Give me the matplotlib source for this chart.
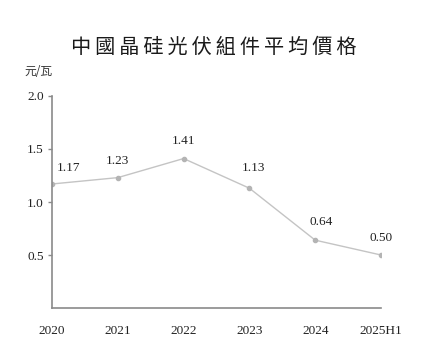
import matplotlib.pyplot as plt
import numpy as np

# 中國晶硅光伏組件平均價格 (元/瓦)
years = ["2020", "2021", "2022", "2023", "2024", "2025H1"]
prices = [1.17, 1.23, 1.41, 1.13, 0.64, 0.50]
price_labels = ["1.17", "1.23", "1.41", "1.13", "0.64", "0.50"]

x = np.arange(len(years))
serif = ['Liberation Serif', 'DejaVu Serif']
cjk = ['Noto Sans CJK TC', 'DejaVu Sans']

fig = plt.figure(figsize=(4.3, 3.51), dpi=100)
ax = fig.add_axes([0.121, 0.1225, 0.765, 0.604])

ax.plot(x, prices, color='#c4c4c4', linewidth=1.0, marker='o',
        markersize=3, markerfacecolor='#b4b4b4', markeredgecolor='#b4b4b4')

# label offsets (points) so the numbers sit like the original
offsets = [(12, 7), (0, 8), (0, 8), (3, 10), (4, 9), (0, 8)]
for xi, yi, lab, off in zip(x, prices, price_labels, offsets):
    ax.annotate(lab, (xi, yi), xytext=off, textcoords='offset points',
                ha='center', va='bottom', fontsize=9.5, color='#222222',
                family=serif)

ax.set_xlim(0, 5)
ax.set_ylim(0, 2.0)
ax.set_yticks([0.5, 1.0, 1.5, 2.0])
ax.set_yticklabels(["0.5", "1.0", "1.5", "2.0"], family=serif, fontsize=9.5,
                   color='#222222')
ax.set_xticks(x)
ax.set_xticklabels(years, family=serif, fontsize=9.5, color='#222222')
ax.tick_params(axis='x', length=0, pad=12)
ax.tick_params(axis='y', length=3, width=1, color='#8a8a8a', pad=3)

for s in ['top', 'right']:
    ax.spines[s].set_visible(False)
for s in ['left', 'bottom']:
    ax.spines[s].set_color('#8a8a8a')
    ax.spines[s].set_linewidth(1.2)

title = "\u2009".join("中國晶硅光伏組件平均價格")
fig.text(0.497, 0.866, title, ha='center', va='center',
         fontsize=14.5, family=cjk, color='#1a1a1a')
fig.text(0.09, 0.795, "元/瓦", ha='center', va='center', fontsize=8.5,
         family=cjk, color='#333333')

fig.savefig('out.png', dpi=100)
